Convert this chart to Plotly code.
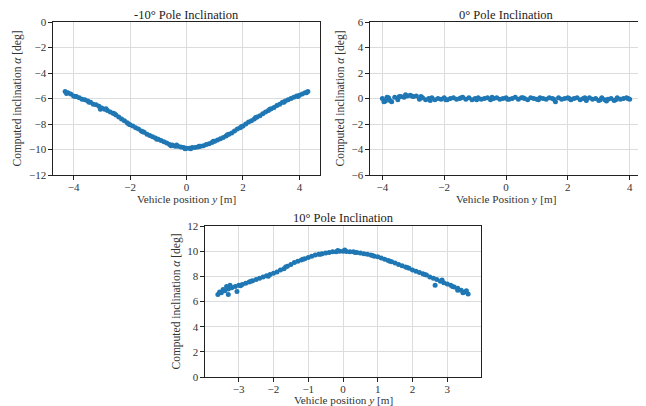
import plotly.graph_objects as go

# ---------------- data ----------------
x_neg10 = [-4.3, -4.2, -4.1, -4.0, -3.9, -3.8, -3.7, -3.6, -3.5, -3.4, -3.3, -3.2, -3.1, -3.0,
           -2.9, -2.8, -2.7, -2.6, -2.5, -2.4, -2.3, -2.2, -2.1, -2.0, -1.9, -1.8, -1.7, -1.6,
           -1.5, -1.4, -1.3, -1.2, -1.1, -1.0, -0.9, -0.8, -0.7, -0.6, -0.5, -0.4, -0.3, -0.2,
           -0.1, 0.0, 0.1, 0.2, 0.3, 0.4, 0.5, 0.6, 0.7, 0.8, 0.9, 1.0, 1.1, 1.2, 1.3, 1.4,
           1.5, 1.6, 1.7, 1.8, 1.9, 2.0, 2.1, 2.2, 2.3, 2.4, 2.5, 2.6, 2.7, 2.8, 2.9, 3.0,
           3.1, 3.2, 3.3, 3.4, 3.5, 3.6, 3.7, 3.8, 3.9, 4.0, 4.1, 4.2, 4.3,
           -4.25, -3.95, -3.45, -3.05, -2.85, -2.55, -2.05, -1.55, -1.05, -0.55, -0.35, -0.05,
           0.15, 0.45, 0.95, 1.45, 1.95, 2.45, 2.95, 3.45, 3.95, 4.25]
y_neg10 = [-5.45, -5.55, -5.65, -5.8, -5.85, -5.95, -6.05, -6.1, -6.2, -6.3, -6.45, -6.5, -6.6, -6.75,
           -6.85, -6.95, -7.05, -7.15, -7.3, -7.45, -7.6, -7.75, -7.9, -8.05, -8.15, -8.3, -8.4, -8.55,
           -8.65, -8.8, -8.9, -9.0, -9.1, -9.2, -9.3, -9.4, -9.5, -9.6, -9.65, -9.75, -9.75, -9.8,
           -9.85, -9.9, -9.9, -9.85, -9.85, -9.8, -9.75, -9.7, -9.6, -9.55, -9.45, -9.35, -9.25, -9.15,
           -9.05, -8.95, -8.8, -8.7, -8.55, -8.4, -8.3, -8.15, -8.0, -7.85, -7.75, -7.6, -7.45, -7.35,
           -7.2, -7.05, -6.95, -6.8, -6.7, -6.55, -6.45, -6.3, -6.2, -6.1, -6.0, -5.9, -5.8, -5.75,
           -5.65, -5.55, -5.45,
           -5.6, -5.85, -6.3, -6.85, -6.8, -7.2, -8.0, -8.6, -9.2, -9.7, -9.65, -9.95,
           -9.95, -9.75, -9.35, -8.85, -8.2, -7.5, -6.85, -6.3, -5.85, -5.55]

x_0 = [-4.0, -3.9, -3.8, -3.7, -3.6, -3.5, -3.4, -3.3, -3.2, -3.1, -3.0, -2.9, -2.8, -2.7,
       -2.6, -2.5, -2.4, -2.3, -2.2, -2.1, -2.0, -1.9, -1.8, -1.7, -1.6, -1.5, -1.4, -1.3,
       -1.2, -1.1, -1.0, -0.9, -0.8, -0.7, -0.6, -0.5, -0.4, -0.3, -0.2, -0.1, 0.0, 0.1,
       0.2, 0.3, 0.4, 0.5, 0.6, 0.7, 0.8, 0.9, 1.0, 1.1, 1.2, 1.3, 1.4, 1.5, 1.6, 1.7,
       1.8, 1.9, 2.0, 2.1, 2.2, 2.3, 2.4, 2.5, 2.6, 2.7, 2.8, 2.9, 3.0, 3.1, 3.2, 3.3,
       3.4, 3.5, 3.6, 3.7, 3.8, 3.9, 4.0,
       -3.95, -3.85, -3.75, -3.45, -3.25, -3.05, -2.75, -2.45, -1.95, -1.45, -0.95, -0.45,
       0.05, 0.55, 1.05, 1.55, 2.05, 2.55, 3.05, 3.25, 3.55, 3.95]
y_0 = [0.0, -0.2, 0.05, -0.25, 0.1, -0.1, 0.15, 0.1, 0.2, 0.25, 0.15, 0.2, -0.05, 0.05,
       -0.1, 0.0, 0.05, -0.1, 0.0, -0.05, 0.05, -0.1, 0.0, 0.05, -0.05, 0.0, 0.1, -0.05,
       0.05, -0.1, 0.0, 0.05, -0.05, 0.0, 0.05, -0.1, 0.0, 0.05, -0.05, 0.0, 0.05, -0.05,
       0.0, 0.1, -0.05, 0.05, 0.0, -0.1, 0.05, 0.0, -0.05, 0.05, 0.0, -0.05, 0.05, 0.0,
       -0.25, 0.05, -0.05, 0.0, 0.05, -0.1, 0.0, 0.05, -0.1, 0.0, -0.15, 0.05, -0.05, 0.0,
       -0.15, 0.05, -0.1, -0.05, 0.0, -0.15, 0.05, -0.05, 0.0, 0.05, -0.05,
       -0.25, 0.1, -0.15, 0.15, 0.3, 0.2, 0.15, -0.15, -0.1, 0.05, -0.1, 0.1,
       -0.05, 0.05, -0.1, -0.05, 0.0, 0.05, -0.1, -0.2, -0.1, 0.0]

x_pos10 = [-3.6, -3.5, -3.4, -3.3, -3.2, -3.1, -3.0, -2.9, -2.8, -2.7, -2.6, -2.5, -2.4, -2.3,
           -2.2, -2.1, -2.0, -1.9, -1.8, -1.7, -1.6, -1.5, -1.4, -1.3, -1.2, -1.1, -1.0, -0.9,
           -0.8, -0.7, -0.6, -0.5, -0.4, -0.3, -0.2, -0.1, 0.0, 0.1, 0.2, 0.3, 0.4, 0.5,
           0.6, 0.7, 0.8, 0.9, 1.0, 1.1, 1.2, 1.3, 1.4, 1.5, 1.6, 1.7, 1.8, 1.9, 2.0, 2.1,
           2.2, 2.3, 2.4, 2.5, 2.6, 2.7, 2.8, 2.9, 3.0, 3.1, 3.2, 3.3, 3.4, 3.5, 3.6,
           -3.55, -3.45, -3.35, -3.3, -3.25, -3.05, -2.95, -2.65, -2.15, -1.65, -1.15, -0.65,
           -0.15, 0.05, 0.35, 0.85, 1.35, 1.85, 2.35, 2.65, 2.85, 3.15, 3.3, 3.45, 3.55]
y_pos10 = [6.55, 6.7, 6.85, 7.0, 7.1, 7.2, 7.3, 7.35, 7.45, 7.55, 7.65, 7.75, 7.85, 7.95,
           8.05, 8.15, 8.25, 8.35, 8.5, 8.6, 8.8, 8.95, 9.1, 9.2, 9.3, 9.4, 9.5, 9.6,
           9.7, 9.75, 9.8, 9.85, 9.9, 9.95, 9.95, 10.0, 10.0, 9.98, 9.95, 9.95, 9.9, 9.85,
           9.8, 9.75, 9.7, 9.6, 9.55, 9.45, 9.35, 9.25, 9.15, 9.05, 8.95, 8.85, 8.75, 8.65,
           8.5, 8.4, 8.3, 8.2, 8.1, 7.95, 7.85, 7.75, 7.6, 7.5, 7.4, 7.3, 7.15, 7.05, 6.9,
           6.75, 6.6,
           6.75, 6.95, 7.2, 6.55, 7.3, 6.8, 7.25, 7.6, 8.0, 8.75, 9.35, 9.75,
           10.05, 10.1, 9.9, 9.65, 9.2, 8.7, 8.15, 7.3, 7.7, 7.2, 6.9, 6.7, 6.85]

titles = ["-10° Pole Inclination", "0° Pole Inclination", "10° Pole Inclination"]
xlabels = ["Vehicle position <i>y</i> [m]", "Vehicle Position y [m]", "Vehicle position <i>y</i> [m]"]
ylabel = "Computed inclination <i>α</i> [deg]"
x_ranges = [[-4.73, 4.73], [-4.4, 4.4], [-3.97, 3.97]]
y_ranges = [[-12, 0], [-6, 6], [0, 12]]
x_ticks = [[-4, -2, 0, 2, 4], [-4, -2, 0, 2, 4], [-3, -2, -1, 0, 1, 2, 3]]
y_ticks = [[-12, -10, -8, -6, -4, -2, 0], [-6, -4, -2, 0, 2, 4, 6], [0, 2, 4, 6, 8, 10, 12]]

# ---------------- figure ----------------
FONT = "Liberation Serif, Times New Roman, serif"
OFF = 8  # default page body margin
W, H = 646 - OFF, 406 - OFF
boxes = [  # (x0, x1, ytop, ybottom, title_y, xlabel_y) in window pixels
    (53, 320, 22, 175, 15, 199),
    (370, 642, 22, 175, 15, 199),
    (205, 481, 226, 377, 218, 400),
]

fig = go.Figure()
series = [(x_neg10, y_neg10), (x_0, y_0), (x_pos10, y_pos10)]
for i, (xs, ys) in enumerate(series):
    n = "" if i == 0 else str(i + 1)
    fig.add_trace(go.Scatter(x=xs, y=ys, mode="markers", xaxis="x" + n, yaxis="y" + n,
                             marker=dict(color="#1f77b4", size=5, line=dict(width=0)),
                             showlegend=False))

layout = dict(width=W, height=H, margin=dict(l=0, r=0, t=0, b=0),
              paper_bgcolor="white", plot_bgcolor="white",
              font=dict(family=FONT, color="#262626", size=11))
annotations = []
for i, (x0, x1, yt, yb, ty, ly) in enumerate(boxes):
    x0, x1, yt, yb, ty, ly = (v - OFF for v in (x0, x1, yt, yb, ty, ly))
    n = "" if i == 0 else str(i + 1)
    axcommon = dict(showline=True, linecolor="#222", linewidth=1.2, mirror=True,
                    ticks="outside", ticklen=3.5, tickwidth=1, tickcolor="#222",
                    showgrid=True, gridcolor="#dcdcdc", gridwidth=1, zeroline=False,
                    automargin=False,
                    tickfont=dict(family=FONT, size=11, color="#333"))
    layout["xaxis" + n] = dict(axcommon, domain=[x0 / W, x1 / W], anchor="y" + n,
                               range=x_ranges[i], tickvals=x_ticks[i], ticklabelstandoff=-2,
                               ticktext=[str(v).replace("-", "\u2212") for v in x_ticks[i]])
    layout["yaxis" + n] = dict(axcommon, domain=[1 - yb / H, 1 - yt / H], anchor="x" + n,
                               range=y_ranges[i], tickvals=y_ticks[i],
                               ticktext=[str(v).replace("-", "\u2212") for v in y_ticks[i]],
                               title=dict(text=ylabel, font=dict(family=FONT, size=11.5, color="#333"),
                                          standoff=4))
    annotations.append(dict(text=titles[i], x=(x0 + x1) / 2 / W, y=1 - ty / H,
                            xref="paper", yref="paper", xanchor="center", yanchor="middle",
                            borderpad=0, showarrow=False,
                            font=dict(family=FONT, size=12.5, color="#222")))
    annotations.append(dict(text=xlabels[i], x=(x0 + x1) / 2 / W, y=1 - ly / H,
                            xref="paper", yref="paper", xanchor="center", yanchor="middle",
                            borderpad=0, showarrow=False,
                            font=dict(family=FONT, size=11.2, color="#333")))
layout["annotations"] = annotations
fig.update_layout(**layout)
fig.write_html("out.html")
